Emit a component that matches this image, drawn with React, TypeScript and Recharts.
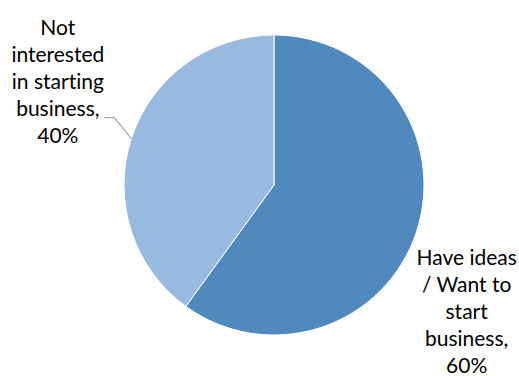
import React from "react";
import { PieChart, Pie, Cell } from "recharts";

const categories = ["Have ideas / Want to start business", "Not interested in starting business"];
const shares = [60, 40];
const labelLines = [
  ["Have ideas", "/ Want to", "start", "business,", "60%"],
  ["Not", "interested", "in starting", "business,", "40%"],
];
const colors = ["#4f89bd", "#98b9e0"];

const data = categories.map((name, i) => ({ name, value: shares[i] }));

const RAD = Math.PI / 180;
const FONT = "Lato, 'Open Sans', sans-serif";
const FONT_SIZE = 21;
const LINE_H = 27;
const textStyle = { fontVariantLigatures: "none" } as React.CSSProperties;

const renderLabel = (props: any) => {
  const { cx, cy, midAngle, outerRadius, index } = props;
  const cos = Math.cos(-midAngle * RAD);
  const sin = Math.sin(-midAngle * RAD);
  const ex = cx + outerRadius * cos;
  const ey = cy + outerRadius * sin;
  const lines = labelLines[index];
  if (index === 0) {
    // right-hand label, no leader line
    const tx = ex + 50;
    const ty = ey + 34;
    return (
      <text x={tx} y={ty} textAnchor="middle" fill="#000" fontFamily={FONT} fontSize={FONT_SIZE} style={textStyle}>
        {lines.map((l, i) => (
          <tspan key={i} x={tx} dy={i === 0 ? 0 : LINE_H}>
            {l}
          </tspan>
        ))}
      </text>
    );
  }
  // left-hand label with elbow leader line
  const mx = ex - 17;
  const my = ey - 21;
  const hx = mx - 10;
  const tx = hx - 46.5;
  const ty = my - 83;
  return (
    <g>
      <polyline points={`${ex},${ey} ${mx},${my} ${hx},${my}`} fill="none" stroke="#a6a6a6" strokeWidth={1.2} />
      <text x={tx} y={ty} textAnchor="middle" fill="#000" fontFamily={FONT} fontSize={FONT_SIZE} style={textStyle}>
        {lines.map((l, i) => (
          <tspan key={i} x={tx} dy={i === 0 ? 0 : LINE_H}>
            {l}
          </tspan>
        ))}
      </text>
    </g>
  );
};

export default function App() {
  return (
    <div style={{ position: "absolute", left: 0, top: 0, width: 519, height: 376, background: "#fff" }}>
      <PieChart width={519} height={376} margin={{ top: 0, right: 0, bottom: 0, left: 0 }}>
        <Pie
          data={data}
          dataKey="value"
          nameKey="name"
          cx={274}
          cy={185}
          outerRadius={150}
          startAngle={90}
          endAngle={-270}
          stroke="#ffffff"
          strokeWidth={1}
          label={renderLabel}
          labelLine={false}
          isAnimationActive={false}
        >
          {data.map((d, i) => (
            <Cell key={d.name} fill={colors[i]} />
          ))}
        </Pie>
      </PieChart>
    </div>
  );
}
